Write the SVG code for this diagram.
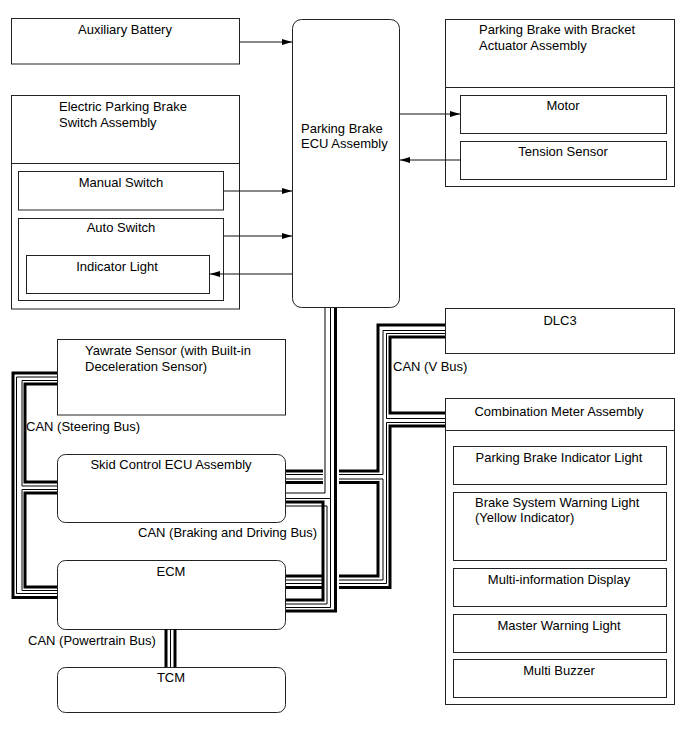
<svg xmlns="http://www.w3.org/2000/svg" width="690" height="756" viewBox="0 0 690 756">
<defs>
<style>
.b{fill:#fff;stroke:#222;stroke-width:1}
.t{font-family:"Liberation Sans",Arial,sans-serif;font-size:13px;fill:#000}
.c{text-anchor:middle}
.a{stroke:#111;stroke-width:1;fill:none}
.k{stroke:#000;stroke-width:3;fill:none}
.n{stroke:#000;stroke-width:1;fill:none}
</style>
<marker id="ah" markerWidth="10" markerHeight="6" refX="10" refY="3" orient="auto" markerUnits="userSpaceOnUse"><path d="M0,0 L10,3 L0,6 z" fill="#000"/></marker>
</defs>
<rect width="690" height="756" fill="#fff"/>
<g id="aux"><rect class="b" x="11.5" y="18.5" width="228" height="45.5"/><text class="t c" x="125" y="34">Auxiliary Battery</text></g>
<g id="ecu"><rect class="b" x="292.5" y="19.5" width="107" height="288" rx="9"/><text class="t" x="301" y="133">Parking Brake</text><text class="t" x="301" y="148">ECU Assembly</text></g>
<g id="epb"><rect class="b" x="11.5" y="95.5" width="228" height="213.5"/><line class="b" x1="11.5" y1="163.5" x2="239.5" y2="163.5"/><text class="t" x="59" y="111">Electric Parking Brake</text><text class="t" x="59" y="127">Switch Assembly</text></g>
<g id="manual"><rect class="b" x="18.5" y="171.5" width="205" height="38.5"/><text class="t c" x="121" y="187">Manual Switch</text></g>
<g id="auto"><rect class="b" x="18.5" y="218.5" width="205" height="82"/><text class="t c" x="121" y="232">Auto Switch</text></g>
<g id="indicator"><rect class="b" x="26.5" y="255.5" width="183" height="38"/><text class="t c" x="117" y="271">Indicator Light</text></g>
<g id="pbb"><rect class="b" x="445.5" y="19.5" width="229" height="167"/><line class="b" x1="445.5" y1="87.5" x2="674.5" y2="87.5"/><text class="t" x="479" y="34">Parking Brake with Bracket</text><text class="t" x="479" y="50">Actuator Assembly</text></g>
<g id="motor"><rect class="b" x="460.5" y="95.5" width="206" height="38"/><text class="t c" x="563" y="110">Motor</text></g>
<g id="tension"><rect class="b" x="460.5" y="141.5" width="206" height="38"/><text class="t c" x="563" y="156">Tension Sensor</text></g>
<g id="dlc3"><rect class="b" x="445.5" y="308.5" width="229" height="45"/><text class="t c" x="560" y="325">DLC3</text></g>
<g id="yaw"><rect class="b" x="57.5" y="339.5" width="228" height="75.5"/><text class="t" x="85" y="355">Yawrate Sensor (with Built-in</text><text class="t" x="85" y="371">Deceleration Sensor)</text></g>
<g id="skid"><rect class="b" x="57.5" y="454.5" width="228" height="68" rx="8"/><text class="t c" x="171" y="469">Skid Control ECU Assembly</text></g>
<g id="ecm"><rect class="b" x="57.5" y="560.5" width="228" height="69" rx="8"/><text class="t c" x="171" y="575.5">ECM</text></g>
<g id="tcm"><rect class="b" x="57.5" y="667.5" width="228" height="45" rx="8"/><text class="t c" x="171" y="681.5">TCM</text></g>
<g id="meter"><rect class="b" x="445.5" y="398.5" width="229" height="306"/><line class="b" x1="445.5" y1="430.5" x2="674.5" y2="430.5"/><text class="t c" x="559" y="416">Combination Meter Assembly</text></g>
<g id="pbil"><rect class="b" x="453.5" y="446.5" width="213" height="38"/><text class="t c" x="559" y="461.5">Parking Brake Indicator Light</text></g>
<g id="bswl"><rect class="b" x="453.5" y="492.5" width="213" height="68"/><text class="t" x="475" y="507">Brake System Warning Light</text><text class="t" x="475" y="522">(Yellow Indicator)</text></g>
<g id="mid"><rect class="b" x="453.5" y="568.5" width="213" height="38"/><text class="t c" x="559" y="584">Multi-information Display</text></g>
<g id="mwl"><rect class="b" x="453.5" y="614.5" width="213" height="38"/><text class="t c" x="559" y="630">Master Warning Light</text></g>
<g id="mb"><rect class="b" x="453.5" y="659.5" width="213" height="38"/><text class="t c" x="559" y="675">Multi Buzzer</text></g>
<g id="labels">
<text class="t" x="26" y="431">CAN (Steering Bus)</text>
<text class="t" x="138" y="537">CAN (Braking and Driving Bus)</text>
<text class="t" x="28" y="645">CAN (Powertrain Bus)</text>
<text class="t" x="393" y="370.5">CAN (V Bus)</text>
</g>
<g id="connectors">
<line class="a" x1="240" y1="42" x2="292" y2="42" marker-end="url(#ah)"/>
<line class="a" x1="224" y1="191" x2="292" y2="191" marker-end="url(#ah)"/>
<line class="a" x1="224" y1="236" x2="292" y2="236" marker-end="url(#ah)"/>
<line class="a" x1="292" y1="274" x2="210" y2="274" marker-end="url(#ah)"/>
<line class="a" x1="399" y1="114" x2="460" y2="114" marker-end="url(#ah)"/>
<line class="a" x1="460" y1="160" x2="400" y2="160" marker-end="url(#ah)"/>
<path class="k" d="M57,373 H13 V597.5 H57"/>
<path class="n" d="M57,377 H16.5 V593.5 H57"/>
<path class="n" d="M57,380.5 H22 V486 H57"/>
<path class="k" d="M57,384 H25 V482 H57"/>
<path class="n" d="M57,489.5 H22 V590.5 H57"/>
<path class="k" d="M57,493 H25 V587 H57"/>
<path class="k" d="M445,325 H378 V471 H339"/>
<path class="n" d="M445,330.5 H383 V474.5 H339"/>
<path class="n" d="M445,333.5 H386.5 V418.5 H445"/>
<path class="k" d="M445,337 H390 V413 H445"/>
<path class="n" d="M445,422.5 H386.5 V583.5 H339"/>
<path class="k" d="M445,426 H390 V587.5 H339"/>
<path class="n" d="M339,479 H383 V580 H339"/>
<path class="k" d="M339,482.5 H378 V576 H339"/>
<path class="k" d="M286,471 H323 M286,482.5 H323 M286,576 H323 M286,587.5 H323"/>
<path class="n" d="M286,474.5 H323 M286,479 H323 M286,580 H323 M286,583.5 H323"/>
<path class="n" d="M325,308 V493 H286"/>
<path class="n" d="M330.5,308 V607.5 H286 M330.5,498.5 H286"/>
<path class="k" d="M335.5,308 V611 H286"/>
<path class="k" d="M286,502 H323 V600 H286"/>
<path class="n" d="M286,506 H327 V604 H286"/>
<path class="k" d="M166,629 V667"/>
<path class="n" d="M170.5,629 V667"/>
<path class="k" d="M175,629 V667"/>
</g>
</svg>
